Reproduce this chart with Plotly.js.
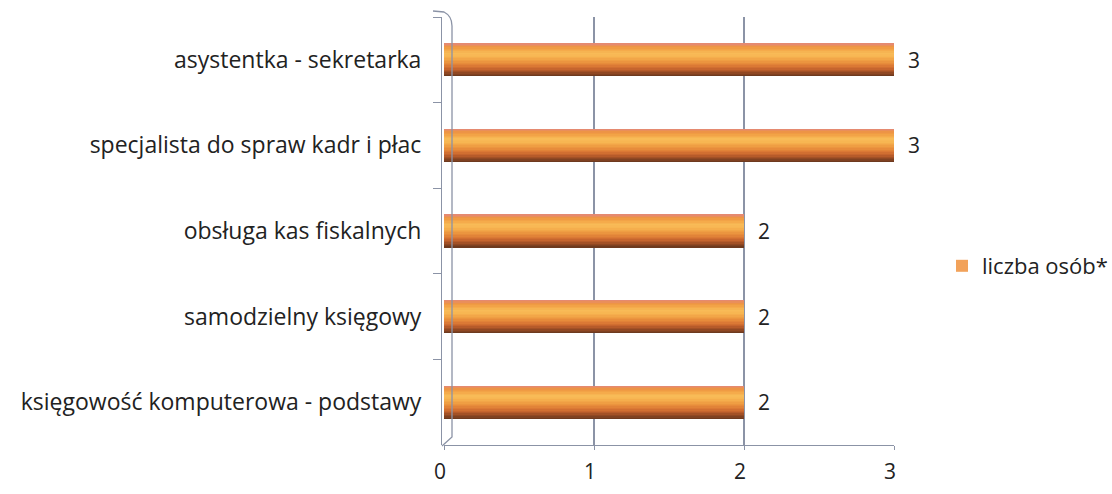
<!DOCTYPE html>
<html>
<head>
<meta charset="utf-8">
<script src="https://cdn.plot.ly/plotly-3.0.1.min.js"></script>
<style>html,body{margin:0;padding:0;background:#fff;}#chart{width:1112px;height:494px;}</style>
</head>
<body>
<div id="chart"></div>
<script>
// ---- data ----
const categories = [
  "asystentka - sekretarka",
  "specjalista do spraw kadr i płac",
  "obsługa kas fiskalnych",
  "samodzielny księgowy",
  "księgowość komputerowa - podstawy"
];
const values = [3, 3, 2, 2, 2];
const seriesName = "liczba osób*";
const xTicks = [0, 1, 2, 3];

// ---- styling ----
const FONT = "'Open Sans', 'Noto Sans', 'DejaVu Sans', sans-serif";
const axisColor = "#8b93a6";
const barWidth = 0.39;
// cylinder shading key colours, top edge -> bottom edge
const keyShades = ["#e58a70","#ee9540","#f4a849","#f8bb57","#f7b552","#f1a245","#e88e3c","#da7835","#c2612c","#954a24","#6e3a1f"];
const NS = 24;
function hex2rgb(h){return [1,3,5].map(i=>parseInt(h.substr(i,2),16));}
function shadeAt(t){
  const p = t*(keyShades.length-1), i = Math.min(Math.floor(p), keyShades.length-2), f = p - i;
  const a = hex2rgb(keyShades[i]), b = hex2rgb(keyShades[i+1]);
  return "rgb(" + a.map((v,j)=>Math.round(v+(b[j]-v)*f)).join(",") + ")";
}

const traces = [];
traces.push({
  type: "bar", orientation: "h", name: seriesName,
  x: values, y: categories, width: barWidth,
  marker: {color: "#f2a25a"}, showlegend: true, hoverinfo: "x+y"
});
const h = barWidth / NS;
for (let k = 0; k < NS; k++) {
  traces.push({
    type: "bar", orientation: "h", name: seriesName,
    x: values, y: categories,
    width: (k === NS - 1) ? h : 2 * h, offset: -barWidth / 2 + k * h,
    marker: {color: shadeAt(k / (NS - 1)), line: {width: 0}},
    showlegend: false, hoverinfo: "skip"
  });
}

const annotations = values.map((v, i) => ({
  x: v, y: categories[i], xref: "x", yref: "y",
  text: String(v), showarrow: false, xanchor: "left", xshift: 12,
  font: {family: FONT, size: 21, color: "#222"}
}));

const W = 1112, H = 494;
const L = 441, R = 218, T = 17, B = 49;
const pw = W - L - R;
function px(x) { return (x - L) / pw; }
function py(y) { return (H - B - y) / (H - T - B); }

const shapes = [
  // 3D wall edge (back vertical line + joins)
  {type: "path", xref: "paper", yref: "paper",
   path: `M ${px(433)} ${py(11)} L ${px(444)} ${py(12)} Q ${px(452)} ${py(16)} ${px(452)} ${py(26)} L ${px(452)} ${py(437)} L ${px(442)} ${py(446)}`,
   line: {color: axisColor, width: 1.3}}
];

const layout = {
  width: W, height: H,
  margin: {l: L, r: R, t: T, b: B, pad: 0, autoexpand: false},
  paper_bgcolor: "#ffffff", plot_bgcolor: "rgba(0,0,0,0)",
  barmode: "overlay", bargap: 0,
  font: {family: FONT, color: "#222"},
  xaxis: {
    range: [0, 3], domain: [px(444), 1],
    tickvals: xTicks, ticktext: xTicks.map(String),
    showgrid: true, gridcolor: axisColor, gridwidth: 1.2,
    zeroline: false, showline: true, linecolor: axisColor, linewidth: 1.3,
    ticks: "outside", ticklen: 4, tickcolor: axisColor,
    ticklabelshift: -4, ticklabelstandoff: 3,
    tickfont: {family: FONT, size: 21, color: "#222"},
    automargin: false, fixedrange: true
  },
  yaxis: {
    type: "category", categoryarray: categories, autorange: "reversed",
    anchor: "free", position: 0,
    showgrid: false, zeroline: false,
    showline: true, linecolor: axisColor, linewidth: 1.3,
    ticks: "outside", tickson: "boundaries", ticklen: 8, tickcolor: axisColor,
    ticklabelstandoff: 15,
    tickfont: {family: FONT, size: 23, color: "#222"},
    automargin: false, fixedrange: true
  },
  legend: {
    x: px(942), y: py(266), xanchor: "left", yanchor: "middle",
    xref: "paper", yref: "paper",
    font: {family: FONT, size: 22, color: "#222"},
    bgcolor: "rgba(0,0,0,0)", itemwidth: 30
  },
  annotations: annotations,
  shapes: shapes
};

Plotly.newPlot("chart", traces, layout, {displayModeBar: false, staticPlot: true});
</script>
</body>
</html>
